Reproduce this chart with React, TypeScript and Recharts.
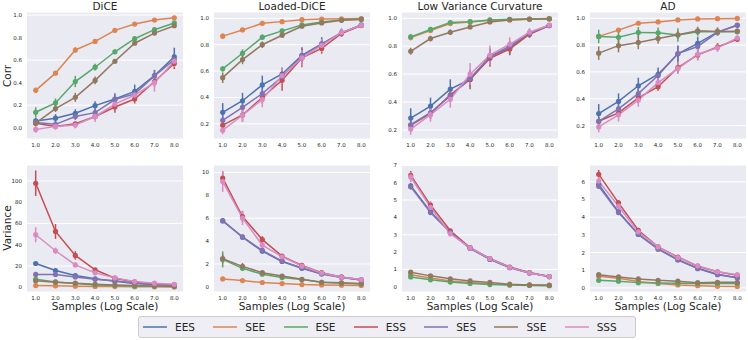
import React from "react";
import { LineChart, Line, XAxis, YAxis, CartesianGrid, ErrorBar } from "recharts";

const samples = [1, 2, 3, 4, 5, 6, 7, 8];
const seriesNames = ["EES", "SEE", "ESE", "ESS", "SES", "SSE", "SSS"];
const seriesColors = ["#4c72b0", "#dd8452", "#55a868", "#c44e52", "#8172b3", "#937860", "#da8bc3"];
const panelTitles = ["DiCE", "Loaded-DiCE", "Low Variance Curvature", "AD"];

type Series = Record<string, number[]>;

// Corr (top row)
const diceCorr: Series = {
  EES: [0.06, 0.085, 0.128, 0.196, 0.255, 0.323, 0.463, 0.63],
  SEE: [0.332, 0.484, 0.69, 0.766, 0.864, 0.92, 0.955, 0.976],
  ESE: [0.137, 0.22, 0.41, 0.537, 0.674, 0.79, 0.87, 0.93],
  ESS: [0.04, 0.012, 0.035, 0.1, 0.184, 0.255, 0.41, 0.57],
  SES: [0.047, 0.03, 0.1, 0.134, 0.25, 0.3, 0.46, 0.605],
  SSE: [0.04, 0.17, 0.27, 0.42, 0.59, 0.75, 0.84, 0.905],
  SSS: [-0.015, 0.012, 0.024, 0.1, 0.21, 0.29, 0.4, 0.59],
};
const diceCorrErr: Series = {
  EES: [0.03, 0.035, 0.035, 0.04, 0.05, 0.06, 0.05, 0.08],
  SEE: [0.025, 0.015, 0.025, 0.02, 0.02, 0.01, 0.01, 0.01],
  ESE: [0.045, 0.04, 0.05, 0.03, 0.02, 0.015, 0.015, 0.01],
  ESS: [0.02, 0.02, 0.02, 0.03, 0.05, 0.04, 0.05, 0.05],
  SES: [0.02, 0.025, 0.03, 0.03, 0.04, 0.04, 0.05, 0.06],
  SSE: [0.03, 0.03, 0.04, 0.035, 0.02, 0.015, 0.015, 0.015],
  SSS: [0.03, 0.03, 0.03, 0.05, 0.05, 0.05, 0.08, 0.05],
};

const loadedCorr: Series = {
  EES: [0.287, 0.375, 0.495, 0.578, 0.72, 0.807, 0.89, 0.95],
  SEE: [0.865, 0.912, 0.962, 0.975, 0.99, 0.995, 0.997, 0.998],
  ESE: [0.617, 0.735, 0.857, 0.905, 0.95, 0.972, 0.987, 0.995],
  ESS: [0.19, 0.267, 0.4, 0.53, 0.7, 0.772, 0.885, 0.945],
  SES: [0.227, 0.325, 0.43, 0.557, 0.715, 0.805, 0.892, 0.947],
  SSE: [0.55, 0.687, 0.8, 0.872, 0.94, 0.965, 0.985, 0.992],
  SSS: [0.152, 0.265, 0.385, 0.565, 0.7, 0.795, 0.892, 0.947],
};
const loadedCorrErr: Series = {
  EES: [0.07, 0.06, 0.07, 0.05, 0.06, 0.05, 0.03, 0.01],
  SEE: [0.02, 0.01, 0.01, 0.01, 0.005, 0.005, 0.005, 0.005],
  ESE: [0.02, 0.03, 0.02, 0.015, 0.01, 0.01, 0.005, 0.005],
  ESS: [0.03, 0.05, 0.05, 0.08, 0.07, 0.04, 0.02, 0.01],
  SES: [0.04, 0.04, 0.04, 0.04, 0.05, 0.04, 0.03, 0.01],
  SSE: [0.04, 0.035, 0.025, 0.02, 0.01, 0.01, 0.005, 0.005],
  SSS: [0.03, 0.05, 0.06, 0.06, 0.06, 0.05, 0.03, 0.01],
};

const lvcCorr: Series = {
  EES: [0.286, 0.372, 0.493, 0.562, 0.726, 0.786, 0.89, 0.95],
  SEE: [0.862, 0.912, 0.962, 0.974, 0.986, 0.99, 0.995, 0.998],
  ESE: [0.867, 0.92, 0.97, 0.976, 0.988, 0.993, 0.995, 0.997],
  ESS: [0.233, 0.32, 0.452, 0.562, 0.714, 0.78, 0.886, 0.948],
  SES: [0.238, 0.324, 0.445, 0.57, 0.726, 0.8, 0.893, 0.948],
  SSE: [0.764, 0.855, 0.9, 0.938, 0.974, 0.988, 0.993, 0.995],
  SSS: [0.207, 0.31, 0.42, 0.6, 0.736, 0.814, 0.9, 0.952],
};
const lvcCorrErr: Series = {
  EES: [0.07, 0.06, 0.07, 0.05, 0.06, 0.05, 0.03, 0.01],
  SEE: [0.02, 0.01, 0.01, 0.01, 0.005, 0.005, 0.005, 0.005],
  ESE: [0.02, 0.015, 0.01, 0.01, 0.005, 0.005, 0.005, 0.005],
  ESS: [0.03, 0.04, 0.05, 0.07, 0.06, 0.04, 0.02, 0.01],
  SES: [0.04, 0.04, 0.04, 0.06, 0.05, 0.04, 0.03, 0.01],
  SSE: [0.025, 0.02, 0.02, 0.015, 0.01, 0.005, 0.005, 0.005],
  SSS: [0.04, 0.05, 0.06, 0.08, 0.07, 0.05, 0.03, 0.01],
};

const adCorr: Series = {
  EES: [0.29, 0.38, 0.497, 0.583, 0.735, 0.813, 0.897, 0.948],
  SEE: [0.865, 0.912, 0.963, 0.973, 0.988, 0.995, 0.997, 0.999],
  ESE: [0.865, 0.858, 0.895, 0.892, 0.875, 0.9, 0.9, 0.9],
  ESS: [0.232, 0.295, 0.406, 0.49, 0.632, 0.727, 0.786, 0.843],
  SES: [0.232, 0.325, 0.438, 0.573, 0.737, 0.79, 0.895, 0.95],
  SSE: [0.74, 0.796, 0.82, 0.85, 0.877, 0.907, 0.902, 0.904],
  SSS: [0.19, 0.28, 0.39, 0.52, 0.625, 0.732, 0.78, 0.853],
};
const adCorrErr: Series = {
  EES: [0.07, 0.06, 0.06, 0.05, 0.06, 0.05, 0.02, 0.01],
  SEE: [0.01, 0.01, 0.01, 0.01, 0.005, 0.005, 0.005, 0.005],
  ESE: [0.05, 0.04, 0.04, 0.04, 0.05, 0.03, 0.03, 0.02],
  ESS: [0.03, 0.03, 0.04, 0.03, 0.04, 0.04, 0.03, 0.02],
  SES: [0.03, 0.03, 0.04, 0.04, 0.06, 0.04, 0.02, 0.01],
  SSE: [0.05, 0.05, 0.05, 0.04, 0.03, 0.03, 0.03, 0.02],
  SSS: [0.04, 0.05, 0.05, 0.04, 0.04, 0.04, 0.03, 0.02],
};

// Variance (bottom row)
const diceVar: Series = {
  EES: [22.3, 15.7, 11, 7.9, 5.7, 3.5, 2.5, 1.9],
  SEE: [1.5, 1.3, 1.0, 0.7, 0.6, 0.5, 0.4, 0.3],
  ESE: [7.5, 5, 3.5, 2.2, 1.6, 1, 0.8, 0.6],
  ESS: [97.8, 52.5, 29.9, 16.4, 8.5, 5, 3.1, 2.2],
  SES: [12, 12, 9.7, 7.5, 6, 4, 2.8, 2.2],
  SSE: [6, 4.7, 3.8, 2.8, 2.2, 1.6, 1.2, 1.0],
  SSS: [49.4, 34.3, 21, 13.5, 8.8, 5.3, 3.8, 2.8],
};
const diceVarErr: Series = {
  EES: [1.5, 1, 0.7, 0.5, 0.3, 0.2, 0.2, 0.1],
  SEE: [0.3, 0.2, 0.2, 0.1, 0.1, 0.1, 0.1, 0.1],
  ESE: [2, 1, 0.5, 0.3, 0.2, 0.1, 0.1, 0.1],
  ESS: [12, 7, 4, 1.5, 1, 0.5, 0.4, 0.3],
  SES: [1.5, 1, 0.7, 0.5, 0.4, 0.3, 0.2, 0.2],
  SSE: [1, 0.7, 0.5, 0.3, 0.2, 0.1, 0.1, 0.1],
  SSS: [7, 3, 2, 1, 0.7, 0.5, 0.4, 0.3],
};

const loadedVar: Series = {
  EES: [5.8, 4.34, 3.12, 2.22, 1.62, 1.13, 0.81, 0.6],
  SEE: [0.69, 0.55, 0.38, 0.29, 0.2, 0.17, 0.14, 0.12],
  ESE: [2.4, 1.62, 1.1, 0.81, 0.64, 0.4, 0.32, 0.26],
  ESS: [9.5, 6.15, 4.13, 2.69, 1.88, 1.24, 0.87, 0.6],
  SES: [5.75, 4.36, 3.18, 2.25, 1.65, 1.16, 0.84, 0.64],
  SSE: [2.46, 1.79, 1.24, 0.95, 0.66, 0.4, 0.35, 0.29],
  SSS: [9.2, 6.0, 3.64, 2.63, 1.82, 1.21, 0.84, 0.64],
};
const loadedVarErr: Series = {
  EES: [0.2, 0.1, 0.1, 0.06, 0.05, 0.04, 0.03, 0.02],
  SEE: [0.05, 0.04, 0.03, 0.02, 0.02, 0.01, 0.01, 0.01],
  ESE: [0.7, 0.2, 0.1, 0.08, 0.05, 0.03, 0.02, 0.02],
  ESS: [0.6, 0.5, 0.3, 0.15, 0.1, 0.08, 0.06, 0.05],
  SES: [0.15, 0.1, 0.1, 0.06, 0.05, 0.04, 0.03, 0.02],
  SSE: [0.4, 0.3, 0.15, 0.1, 0.05, 0.04, 0.03, 0.02],
  SSS: [0.9, 0.6, 0.3, 0.15, 0.1, 0.08, 0.06, 0.05],
};

const lvcVar: Series = {
  EES: [5.82, 4.33, 3.16, 2.22, 1.58, 1.1, 0.8, 0.59],
  SEE: [0.7, 0.51, 0.34, 0.25, 0.17, 0.11, 0.1, 0.08],
  ESE: [0.57, 0.4, 0.27, 0.19, 0.13, 0.1, 0.08, 0.06],
  ESS: [6.43, 4.71, 3.23, 2.26, 1.63, 1.14, 0.82, 0.59],
  SES: [5.76, 4.28, 3.14, 2.22, 1.6, 1.12, 0.8, 0.59],
  SSE: [0.84, 0.63, 0.46, 0.34, 0.25, 0.15, 0.11, 0.1],
  SSS: [6.33, 4.58, 3.06, 2.24, 1.62, 1.12, 0.8, 0.59],
};
const lvcVarErr: Series = {
  EES: [0.15, 0.1, 0.08, 0.05, 0.04, 0.03, 0.02, 0.02],
  SEE: [0.04, 0.03, 0.02, 0.02, 0.01, 0.01, 0.01, 0.01],
  ESE: [0.04, 0.03, 0.02, 0.02, 0.01, 0.01, 0.01, 0.01],
  ESS: [0.25, 0.2, 0.1, 0.06, 0.05, 0.04, 0.03, 0.02],
  SES: [0.15, 0.1, 0.08, 0.05, 0.04, 0.03, 0.02, 0.02],
  SSE: [0.05, 0.04, 0.03, 0.02, 0.02, 0.01, 0.01, 0.01],
  SSS: [0.3, 0.3, 0.15, 0.06, 0.05, 0.04, 0.03, 0.02],
};

const adVar: Series = {
  EES: [5.85, 4.3, 3.04, 2.21, 1.6, 1.11, 0.77, 0.58],
  SEE: [0.66, 0.55, 0.36, 0.25, 0.17, 0.13, 0.09, 0.08],
  ESE: [0.43, 0.38, 0.3, 0.28, 0.26, 0.25, 0.25, 0.25],
  ESS: [6.42, 4.81, 3.26, 2.32, 1.75, 1.23, 0.91, 0.72],
  SES: [5.75, 4.26, 3.02, 2.19, 1.58, 1.09, 0.75, 0.57],
  SSE: [0.75, 0.62, 0.51, 0.43, 0.38, 0.3, 0.32, 0.32],
  SSS: [6.04, 4.62, 3.17, 2.32, 1.72, 1.25, 0.92, 0.74],
};
const adVarErr: Series = {
  EES: [0.15, 0.1, 0.08, 0.05, 0.04, 0.03, 0.02, 0.02],
  SEE: [0.04, 0.03, 0.02, 0.02, 0.01, 0.01, 0.01, 0.01],
  ESE: [0.05, 0.04, 0.03, 0.02, 0.02, 0.01, 0.01, 0.01],
  ESS: [0.25, 0.15, 0.1, 0.06, 0.05, 0.04, 0.03, 0.02],
  SES: [0.15, 0.1, 0.08, 0.05, 0.04, 0.03, 0.02, 0.02],
  SSE: [0.06, 0.05, 0.04, 0.03, 0.02, 0.02, 0.02, 0.02],
  SSS: [0.3, 0.2, 0.1, 0.06, 0.05, 0.04, 0.03, 0.02],
};

const corrTicksDice = [0, 0.2, 0.4, 0.6, 0.8, 1.0];
const corrTicks = [0.2, 0.4, 0.6, 0.8, 1.0];
const varTicksDice = [0, 20, 40, 60, 80, 100];
const varTicksLoaded = [0, 2, 4, 6, 8, 10];
const varTicksLvc = [0, 1, 2, 3, 4, 5, 6, 7];
const varTicksAd = [0, 1, 2, 3, 4, 5, 6];

const FONT = "'DejaVu Sans', sans-serif";
const TEXT = "#262626";
const PLOT_W = 156;
const PLOT_H = 127;
const Y_W = 24;
const M_TOP = 3;
const X_H = 14;
const colLefts = [27, 214, 402, 590];

type PanelProps = {
  left: number;
  top: number;
  values: Series;
  errors: Series;
  domain: [number, number];
  ticks: number[];
  fmt: (v: number) => string;
};

function Panel({ left, top, values, errors, domain, ticks, fmt }: PanelProps) {
  const data = samples.map((s, i) => {
    const row: Record<string, number> = { x: s };
    seriesNames.forEach((n) => {
      row[n] = values[n][i];
      row[n + "_err"] = errors[n][i];
    });
    return row;
  });

  return (
    <div style={{ position: "absolute", left: left - Y_W, top: top - M_TOP }}>
      <LineChart
        width={Y_W + PLOT_W}
        height={M_TOP + PLOT_H + X_H}
        data={data}
        margin={{ top: M_TOP, right: 0, bottom: 0, left: 0 }}
      >
        <CartesianGrid vertical={false} stroke="#ffffff" strokeWidth={1} fill="#eaeaf2" fillOpacity={1} />
        <XAxis
          dataKey="x"
          type="number"
          domain={[0.56, 8.44]}
          ticks={samples}
          tickFormatter={(v) => Number(v).toFixed(1)}
          allowDataOverflow
          axisLine={false}
          tickLine={false}
          tickSize={2}
          tickMargin={2}
          height={X_H}
          tick={{ fill: TEXT, fontSize: 5.5, fontFamily: FONT }}
        />
        <YAxis
          type="number"
          domain={domain}
          ticks={ticks}
          tickFormatter={(v) => fmt(Number(v))}
          allowDataOverflow
          axisLine={false}
          tickLine={false}
          tickSize={3}
          tickMargin={2}
          width={Y_W}
          tick={{ fill: TEXT, fontSize: 5.5, fontFamily: FONT }}
        />
        {seriesNames.map((n, k) => (
          <Line
            key={n}
            dataKey={n}
            stroke={seriesColors[k]}
            strokeWidth={1.5}
            dot={{ r: 2.6, fill: seriesColors[k], stroke: seriesColors[k], strokeWidth: 0 }}
            activeDot={false}
            isAnimationActive={false}
          >
            <ErrorBar dataKey={n + "_err"} width={0} stroke={seriesColors[k]} strokeWidth={1.5} direction="y" />
          </Line>
        ))}
      </LineChart>
    </div>
  );
}

const corrFmt = (v: number) => v.toFixed(1);
const varFmt = (v: number) => String(v);

const label: React.CSSProperties = {
  position: "absolute",
  fontFamily: FONT,
  fontSize: 10.5,
  color: TEXT,
  whiteSpace: "nowrap",
  lineHeight: 1,
};

export default function App() {
  const topRow = [
    { values: diceCorr, errors: diceCorrErr, domain: [-0.1, 1.027] as [number, number], ticks: corrTicksDice },
    { values: loadedCorr, errors: loadedCorrErr, domain: [0.085, 1.048] as [number, number], ticks: corrTicks },
    { values: lvcCorr, errors: lvcCorrErr, domain: [0.136, 1.045] as [number, number], ticks: corrTicks },
    { values: adCorr, errors: adCorrErr, domain: [0.1, 1.047] as [number, number], ticks: corrTicks },
  ];
  const bottomRow = [
    { values: diceVar, errors: diceVarErr, domain: [-4.5, 115] as [number, number], ticks: varTicksDice },
    { values: loadedVar, errors: loadedVarErr, domain: [-0.45, 10.65] as [number, number], ticks: varTicksLoaded },
    { values: lvcVar, errors: lvcVarErr, domain: [-0.3, 7.02] as [number, number], ticks: varTicksLvc },
    { values: adVar, errors: adVarErr, domain: [-0.23, 6.95] as [number, number], ticks: varTicksAd },
  ];

  return (
    <div style={{ position: "absolute", left: 0, top: 0, width: 748, height: 340, background: "#ffffff", overflow: "hidden" }}>
      {topRow.map((p, i) => (
        <Panel key={"t" + i} left={colLefts[i]} top={12} fmt={corrFmt} {...p} />
      ))}
      {bottomRow.map((p, i) => (
        <Panel key={"b" + i} left={colLefts[i]} top={165} fmt={varFmt} {...p} />
      ))}

      {panelTitles.map((t, i) => (
        <div key={t} style={{ ...label, left: colLefts[i], width: PLOT_W, top: 1, textAlign: "center" }}>
          {t}
        </div>
      ))}
      {colLefts.map((l, i) => (
        <div key={"s" + i} style={{ ...label, left: l, width: PLOT_W, top: 301, textAlign: "center" }}>
          Samples (Log Scale)
        </div>
      ))}

      <div style={{ ...label, left: 7, top: 76, transform: "translate(-50%, -50%) rotate(-90deg)" }}>Corr</div>
      <div style={{ ...label, left: 7, top: 228, transform: "translate(-50%, -50%) rotate(-90deg)" }}>Variance</div>

      <div
        style={{
          position: "absolute",
          left: 138,
          top: 316,
          width: 498,
          height: 22,
          boxSizing: "border-box",
          border: "1px solid #cccccc",
          borderRadius: 3,
          background: "#eeeef4",
          display: "flex",
          alignItems: "center",
          paddingLeft: 4,
        }}
      >
        {seriesNames.map((n, k) => (
          <div key={n} style={{ display: "flex", alignItems: "center", width: 73 }}>
            <svg width={24} height={4} style={{ marginRight: 8 }}>
              <line x1={0} y1={2} x2={24} y2={2} stroke={seriesColors[k]} strokeWidth={1.5} />
            </svg>
            <span style={{ fontFamily: FONT, fontSize: 10.5, color: TEXT }}>{n}</span>
          </div>
        ))}
      </div>
    </div>
  );
}
